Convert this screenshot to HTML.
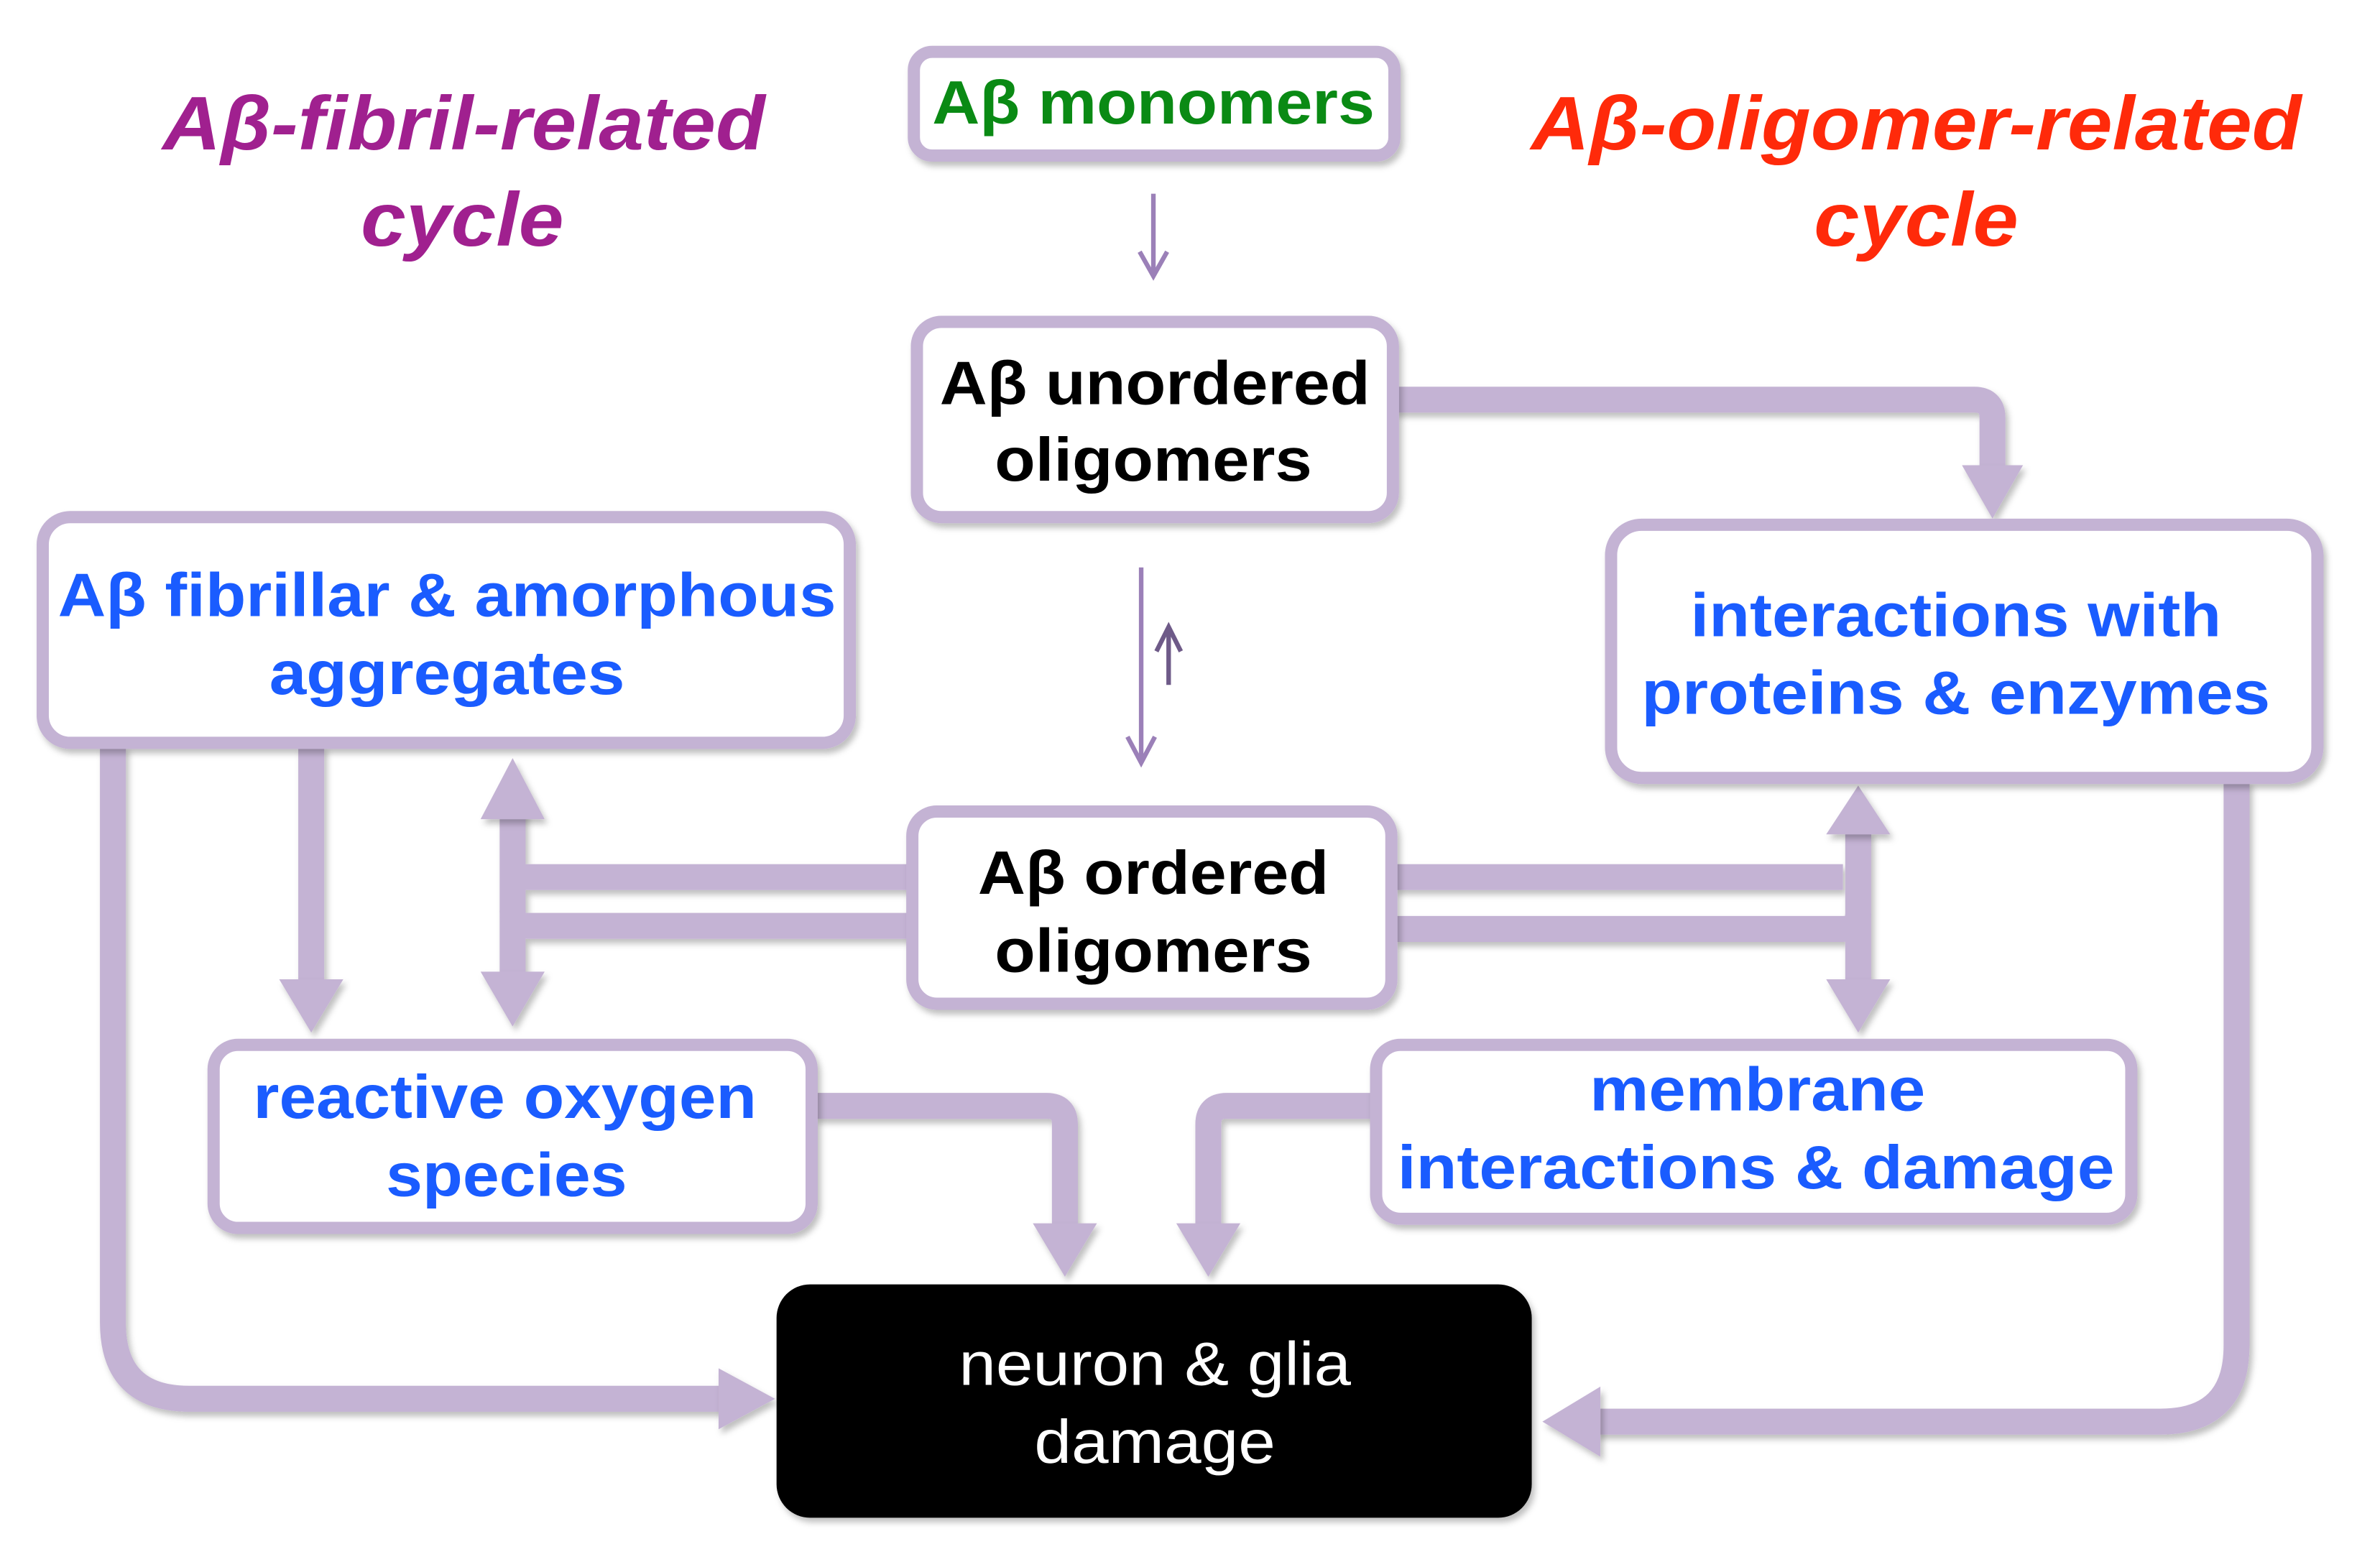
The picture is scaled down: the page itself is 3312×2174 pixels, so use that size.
<!DOCTYPE html>
<html><head><meta charset="utf-8"><style>html,body{margin:0;padding:0;background:#fff}svg{display:block}</style></head>
<body>
<svg width="3312" height="2174" viewBox="0 0 1560 1024" xmlns="http://www.w3.org/2000/svg" font-family="Liberation Sans, Arial, sans-serif" font-weight="bold">
<defs>
<filter id="sh" x="-5%" y="-5%" width="110%" height="115%"><feDropShadow dx="2" dy="3" stdDeviation="2" flood-color="#000" flood-opacity="0.25"/></filter>
</defs>
<g transform="translate(-4,-3)">
<g fill="none" stroke="#c4b3d4" stroke-width="17" filter="url(#sh)">
<path d="M918 265 H1298 Q1310 265 1310 277 V312"/>
<path d="M78 492 V870 Q78 920 128 920 H478"/>
<path d="M208 492 V648"/>
<path d="M340 530 V648"/>
<path d="M600 578 H345"/>
<path d="M600 610 H350 Q340 610 340 600"/>
<path d="M918 578 H1212"/>
<path d="M918 612 H1212 Q1222 612 1222 602"/>
<path d="M1222 548 V650"/>
<path d="M1470 515 V885 Q1470 935 1420 935 H1050"/>
<path d="M538 728 H690 Q702 728 702 740 V808"/>
<path d="M904 728 H808 Q796 728 796 740 V808"/>
</g>
<g fill="#c4b3d4" filter="url(#sh)">
<polygon points="1290,308 1330,308 1310,343"/>
<polygon points="475,900 475,940 512,920"/>
<polygon points="187,645 229,645 208,680"/>
<polygon points="319,540 361,540 340,500"/>
<polygon points="319,640 361,640 340,676"/>
<polygon points="1201,550 1243,550 1222,518"/>
<polygon points="1201,645 1243,645 1222,680"/>
<polygon points="1053,912 1053,958 1015,935"/>
<polygon points="681,805 723,805 702,840"/>
<polygon points="775,805 817,805 796,840"/>
</g>
<g stroke="#9b80b8" stroke-width="3" fill="none">
<path d="M760 130 V182"/><path d="M751 168 L760 184 L769 168"/>
<path d="M752 375 V502"/><path d="M743 486 L752 503 L761 486"/>
<path d="M770 452 V416" stroke="#6e5a88"/><path d="M762 430 L770 414 L778 430" stroke="#6e5a88"/>
</g>
<g fill="#fff" stroke="#c4b3d4" stroke-width="8" filter="url(#sh)">
<rect x="603" y="37" width="315" height="68" rx="12"/>
<rect x="605" y="214" width="312" height="128" rx="16"/>
<rect x="32" y="342" width="529" height="148" rx="18"/>
<rect x="1060" y="347" width="463" height="166" rx="20"/>
<rect x="602" y="535" width="314" height="126" rx="16"/>
<rect x="144" y="688" width="392" height="120" rx="16"/>
<rect x="906" y="688" width="495" height="114" rx="16"/>
</g>
<rect x="513" y="845" width="495" height="153" rx="22" fill="#000" filter="url(#sh)"/>
<g font-size="40" text-anchor="middle">
<text x="760" y="84" fill="#0a8a14" textLength="290" lengthAdjust="spacingAndGlyphs">Aβ monomers</text>
<text x="761" y="268" fill="#000" textLength="282" lengthAdjust="spacingAndGlyphs">Aβ unordered</text>
<text x="760" y="318" fill="#000" textLength="208" lengthAdjust="spacingAndGlyphs">oligomers</text>
<text x="760" y="589" fill="#000" textLength="230" lengthAdjust="spacingAndGlyphs">Aβ ordered</text>
<text x="760" y="640" fill="#000" textLength="208" lengthAdjust="spacingAndGlyphs">oligomers</text>
<g fill="#1a5cff">
<text x="297" y="407" textLength="510" lengthAdjust="spacingAndGlyphs">Aβ fibrillar &amp; amorphous</text>
<text x="297" y="458" textLength="233" lengthAdjust="spacingAndGlyphs">aggregates</text>
<text x="1286" y="420" textLength="348" lengthAdjust="spacingAndGlyphs">interactions with</text>
<text x="1286" y="471" textLength="412" lengthAdjust="spacingAndGlyphs">proteins &amp; enzymes</text>
<text x="335" y="736" textLength="330" lengthAdjust="spacingAndGlyphs">reactive oxygen</text>
<text x="336" y="787" textLength="158" lengthAdjust="spacingAndGlyphs">species</text>
<text x="1156" y="731" textLength="220" lengthAdjust="spacingAndGlyphs">membrane</text>
<text x="1155" y="782" textLength="470" lengthAdjust="spacingAndGlyphs">interactions &amp; damage</text>
</g>
<g fill="#fff" font-weight="normal">
<text x="761" y="911" textLength="257" lengthAdjust="spacingAndGlyphs">neuron &amp; glia</text>
<text x="761" y="962" textLength="158" lengthAdjust="spacingAndGlyphs">damage</text>
</g>
<g font-style="italic" font-size="50">
<text x="308" y="101" fill="#a0208f" textLength="395" lengthAdjust="spacingAndGlyphs">Aβ-fibril-related</text>
<text x="307" y="164" fill="#a0208f" textLength="133" lengthAdjust="spacingAndGlyphs">cycle</text>
<text x="1260" y="101" fill="#ff2a0a" textLength="505" lengthAdjust="spacingAndGlyphs">Aβ-oligomer-related</text>
<text x="1260" y="164" fill="#ff2a0a" textLength="134" lengthAdjust="spacingAndGlyphs">cycle</text>
</g>
</g>
</g>
</svg>
</body></html>
